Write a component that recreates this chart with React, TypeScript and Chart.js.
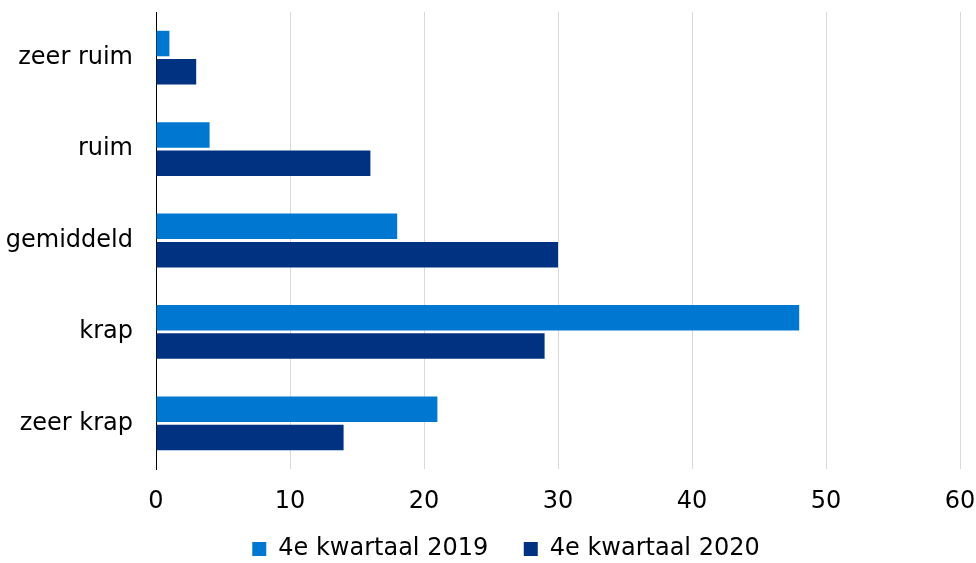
import React, { useEffect, useRef } from "react";
import { Chart, registerables } from "chart.js";

Chart.register(...registerables);

const categories = ["zeer ruim", "ruim", "gemiddeld", "krap", "zeer krap"];
const series2019 = [1, 4, 18, 48, 21];
const series2020 = [3, 16, 30, 29, 14];
const seriesLabels = ["4e kwartaal 2019    ", "4e kwartaal 2020"];
const xMin = 0;
const xMax = 60;
const xStep = 10;

const legendShift = {
  id: "legendShift",
  afterLayout(chart: any) {
    const l = chart.legend;
    if (!l) return;
    const dx = 26;
    const dy = 8;
    l.left += dx;
    l.right += dx;
    l.top += dy;
    l.bottom += dy;
  },
};

export default function App() {
  const ref = useRef<HTMLCanvasElement | null>(null);

  useEffect(() => {
    document.body.style.margin = "0";
    const ctx = ref.current!.getContext("2d")!;
    const font = "'DejaVu Sans', Verdana, sans-serif";
    const chart = new Chart(ctx, {
      type: "bar",
      data: {
        labels: categories,
        datasets: [
          {
            label: seriesLabels[0],
            data: series2019,
            backgroundColor: "#0078D2",
            categoryPercentage: 0.62,
            barPercentage: 0.9,
          },
          {
            label: seriesLabels[1],
            data: series2020,
            backgroundColor: "#003282",
            categoryPercentage: 0.62,
            barPercentage: 0.9,
          },
        ],
      },
      plugins: [legendShift],
      options: {
        indexAxis: "y",
        animation: false,
        responsive: false,
        maintainAspectRatio: false,
        layout: { padding: { left: 0, right: 16, top: 12, bottom: 0 } },
        plugins: {
          tooltip: { enabled: false },
          legend: {
            position: "bottom",
            labels: {
              boxWidth: 14,
              boxHeight: 14,
              padding: 5,
              color: "#000",
              font: { family: font, size: 24 },
            },
          },
        },
        scales: {
          x: {
            min: xMin,
            max: xMax,
            ticks: {
              stepSize: xStep,
              color: "#000",
              padding: 18,
              font: { family: font, size: 24 },
            },
            grid: { color: "#d9d9d9", lineWidth: 1, drawTicks: false },
            border: { display: false },
            afterFit: (s: any) => {
              s.height = 55;
              s.paddingLeft = 0;
              s.paddingRight = 0;
            },
          },
          y: {
            ticks: {
              color: "#000",
              padding: 23,
              font: { family: font, size: 24 },
            },
            grid: { display: false, drawTicks: false },
            border: { display: true, color: "#000", width: 1 },
            afterFit: (s: any) => {
              s.width = 156;
              s.paddingTop = 0;
              s.paddingBottom = 0;
            },
          },
        },
      },
    });
    return () => chart.destroy();
  }, []);

  return <canvas ref={ref} width={976} height={563} style={{ display: "block" }} />;
}
